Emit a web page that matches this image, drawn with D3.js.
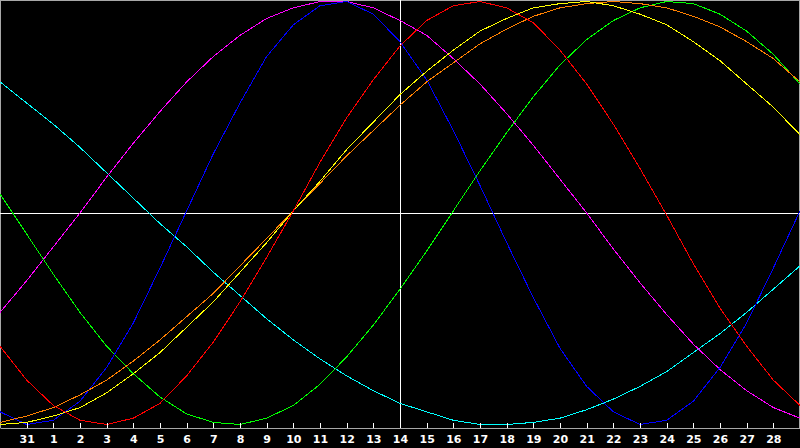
<!DOCTYPE html>
<meta charset="utf-8">
<style>
body { margin: 0; background: #000; }
svg { display: block; background: #000; }
.frame { fill: none; stroke: #a8a8a8; stroke-width: 1px; shape-rendering: crispEdges; }
.guide { stroke: #fff; stroke-width: 1px; shape-rendering: crispEdges; }
.curve { fill: none; stroke-width: 1px; shape-rendering: crispEdges; }
.axis .domain { stroke: #a8a8a8; }
.axis line { stroke: #fff; shape-rendering: crispEdges; }
.axis text { fill: #fff; font: bold 11px "DejaVu Sans", sans-serif; }
</style>
<body>
<script src="https://d3js.org/d3.v7.min.js"></script>
<script>

const width = 800;
const height = 448;
const plotBottom = 428;

// one point per day, left edge = day 30 of the previous month
const dayLabels = ["30", "31", "1", "2", "3", "4", "5", "6", "7", "8", "9", "10",
  "11", "12", "13", "14", "15", "16", "17", "18", "19", "20", "21", "22",
  "23", "24", "25", "26", "27", "28", "29"];

// values in percent, -100 .. 100
const red = [-63, -79, -91, -98, -100, -97, -90, -77, -61, -42, -21, 1, 24, 45, 63, 79,
  91, 98, 100, 97, 90, 77, 61, 42, 21, -1, -24, -45, -63, -79, -91];
const green = [9, -10, -29, -47, -63, -76, -87, -95, -99, -100, -97, -91, -81, -68, -53, -36,
  -18, 1, 20, 38, 55, 70, 82, 91, 97, 100, 99, 94, 86, 75, 61];
const blue = [-94, -100, -98, -89, -73, -52, -26, 1, 28, 52, 74, 89, 98, 100, 94, 81,
  63, 39, 13, -14, -40, -64, -82, -94, -100, -98, -89, -73, -52, -26, 1];
const magenta = [-47, -32, -16, 0, 17, 33, 48, 62, 74, 84, 92, 97, 100, 100, 97, 91,
  84, 73, 61, 47, 32, 16, 0, -17, -33, -48, -62, -74, -84, -92, -97];
const cyan = [62, 52, 42, 31, 19, 7, -5, -16, -28, -39, -50, -60, -69, -77, -84, -90,
  -94, -98, -100, -100, -99, -97, -93, -88, -82, -75, -66, -57, -47, -36, -25];
const yellow = [-100, -99, -96, -92, -85, -76, -66, -54, -42, -28, -14, 1, 15, 30, 43, 56,
  67, 77, 86, 92, 97, 99, 100, 98, 94, 89, 81, 72, 61, 50, 37];
const orange = [-99, -96, -92, -86, -79, -70, -60, -49, -38, -25, -12, 1, 14, 27, 39, 51,
  62, 71, 80, 87, 93, 97, 99, 100, 99, 97, 93, 88, 81, 73, 62];

const series = [
  { name: "cyan", color: "#00ffff", values: cyan },
  { name: "magenta", color: "#ff00ff", values: magenta },
  { name: "green", color: "#00ff00", values: green },
  { name: "blue", color: "#0000ff", values: blue },
  { name: "orange", color: "#ff8000", values: orange },
  { name: "yellow", color: "#ffff00", values: yellow },
  { name: "red", color: "#ff0000", values: red }
];

const x = d3.scaleLinear().domain([0, dayLabels.length - 1]).range([0, width]);
const y = d3.scaleLinear().domain([-100, 100]).range([424.5, 1.5]);

const svg = d3.select("body").append("svg")
    .attr("width", width)
    .attr("height", height);

// frame
svg.append("path")
    .attr("class", "frame")
    .attr("d", `M0.5,${plotBottom}V0.5H${width - 0.5}V${plotBottom}`);

// zero line and "today" line
svg.append("line")
    .attr("class", "guide")
    .attr("x1", 0).attr("x2", width)
    .attr("y1", Math.floor(y(0)) + 0.5).attr("y2", Math.floor(y(0)) + 0.5);

svg.append("line")
    .attr("class", "guide")
    .attr("x1", Math.floor(x(15)) + 0.5).attr("x2", Math.floor(x(15)) + 0.5)
    .attr("y1", 0).attr("y2", plotBottom);

const line = d3.line()
    .x((d, i) => x(i))
    .y(d => y(d));

svg.selectAll(".curve")
    .data(series)
  .enter().append("path")
    .attr("class", "curve")
    .attr("stroke", d => d.color)
    .attr("d", d => line(d.values));

const axis = d3.axisBottom(x)
    .tickValues(d3.range(1, dayLabels.length - 1))
    .tickFormat(i => dayLabels[i])
    .tickSizeInner(-5)
    .tickSizeOuter(0)
    .tickPadding(7);

svg.append("g")
    .attr("class", "axis")
    .attr("transform", `translate(0,${plotBottom})`)
    .call(axis);

</script>
</body>
